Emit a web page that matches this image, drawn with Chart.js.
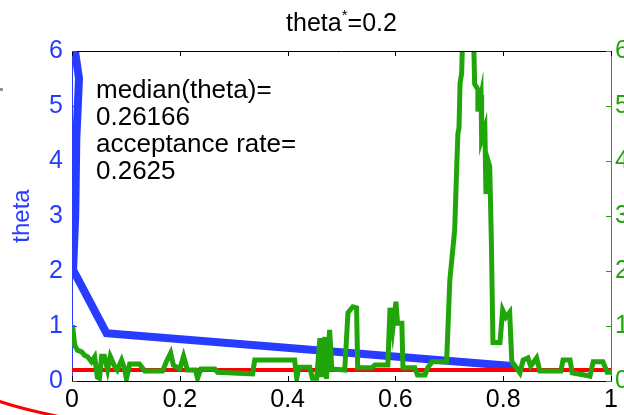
<!DOCTYPE html>
<html>
<head>
<meta charset="utf-8">
<script src="https://cdn.jsdelivr.net/npm/chart.js@4.4.0/dist/chart.umd.min.js"></script>
<style>
  body { margin: 0; background: #fff; }
  #mycanvas { display: block; }
</style>
</head>
<body>
<canvas id="mycanvas" width="624" height="415"></canvas>
<script>
// tick labels
var xTicks = [0, 0.2, 0.4, 0.6, 0.8, 1];
var yTicks = [0, 1, 2, 3, 4, 5, 6];

// blue curve (left axis)
var thetaX = [0.004, 0.013, 0.008, 0.006, 0.002, 0.064, 0.822];
var thetaY = [6.1, 5.5, 4.4, 3.0, 2.02, 0.87, 0.27];

// green trace (right axis)
var traceX = [0.001, 0.005, 0.010, 0.018, 0.023, 0.029, 0.036, 0.042, 0.047, 0.051,
  0.055, 0.060, 0.066, 0.071, 0.079, 0.084, 0.092, 0.097, 0.101, 0.107,
  0.125, 0.135, 0.168, 0.175, 0.183, 0.188, 0.200, 0.207, 0.214, 0.229,
  0.233, 0.239, 0.265, 0.270, 0.289, 0.335, 0.339, 0.413, 0.417, 0.421,
  0.441, 0.446, 0.454, 0.460, 0.463, 0.469, 0.472, 0.478, 0.482, 0.506,
  0.512, 0.521, 0.528, 0.530, 0.556, 0.562, 0.586, 0.590, 0.595, 0.601,
  0.604, 0.612, 0.614, 0.636, 0.641, 0.655, 0.660, 0.668, 0.695, 0.701,
  0.710, 0.714, 0.716, 0.718, 0.720, 0.723, 0.726, 0.735, 0.744, 0.747,
  0.753, 0.753, 0.759, 0.760, 0.766, 0.768, 0.772, 0.775, 0.778, 0.781,
  0.794, 0.799, 0.805, 0.812, 0.816, 0.824, 0.831, 0.837, 0.846, 0.851,
  0.857, 0.862, 0.868, 0.907, 0.911, 0.924, 0.928, 0.961, 0.967, 0.985,
  0.993, 1.0];
var traceY = [1.02, 0.65, 0.56, 0.53, 0.47, 0.44, 0.35, 0.44, 0.07, 0.05,
  0.45, 0.45, 0.20, 0.45, 0.27, 0.20, 0.38, 0.24, 0.04, 0.31,
  0.31, 0.18, 0.18, 0.35, 0.51, 0.29, 0.22, 0.45, 0.20, 0.20,
  0.05, 0.22, 0.22, 0.16, 0.15, 0.13, 0.38, 0.38, 0.05, 0.25,
  0.25, 0.05, 0.05, 0.78, 0.07, 0.80, 0.04, 0.93, 0.22, 0.20,
  1.24, 1.35, 1.33, 0.24, 0.24, 0.29, 0.29, 1.33, 0.93, 1.44,
  1.05, 1.05, 0.24, 0.24, 0.11, 0.11, 0.24, 0.35, 0.35, 1.84,
  2.75, 3.96, 4.50, 4.60, 5.42, 5.60, 6.8, 7.2, 6.8, 5.40,
  5.30, 4.90, 5.20, 4.40, 4.60, 3.40, 4.00, 3.90, 2.56, 0.70,
  0.70, 1.29, 1.16, 1.25, 0.35, 0.25, 0.15, 0.38, 0.42, 0.27,
  0.35, 0.42, 0.18, 0.18, 0.38, 0.38, 0.15, 0.09, 0.35, 0.35,
  0.16, 0.16];

// true value line
var trueTheta = 0.2;
var notes = ['median(theta)=', '0.26166', 'acceptance rate=', '0.2625'];

var BLUE = 'rgb(40,60,255)';
var GREEN = 'rgb(32,165,10)';
var RED = 'rgb(255,0,0)';
var FONT = 'Liberation Sans, Arial, Helvetica, sans-serif';
var FS = 25;

function pts(xs, ys) {
  var out = [];
  for (var i = 0; i < xs.length; i++) out.push({x: xs[i], y: ys[i]});
  return out;
}

var extras = {
  id: 'extras',
  afterDatasetsDraw: function(chart) {
    var ctx = chart.ctx, a = chart.chartArea;
    var sx = chart.scales.x, sy = chart.scales.y;
    ctx.save();
    // top border
    ctx.strokeStyle = '#000';
    ctx.lineWidth = 1;
    ctx.beginPath();
    ctx.moveTo(a.left, a.top + 0.5);
    ctx.lineTo(a.right, a.top + 0.5);
    ctx.stroke();
    // inward x ticks
    xTicks.forEach(function(v) {
      var px = Math.round(sx.getPixelForValue(v)) + 0.5;
      ctx.beginPath();
      ctx.moveTo(px, a.bottom); ctx.lineTo(px, a.bottom - 5);
      ctx.moveTo(px, a.top); ctx.lineTo(px, a.top + 5);
      ctx.stroke();
    });
    // inward y ticks
    yTicks.forEach(function(v) {
      var py = Math.round(sy.getPixelForValue(v)) + 0.5;
      ctx.strokeStyle = BLUE;
      ctx.beginPath(); ctx.moveTo(a.left, py); ctx.lineTo(a.left + 5, py); ctx.stroke();
      ctx.strokeStyle = GREEN;
      ctx.beginPath(); ctx.moveTo(a.right, py); ctx.lineTo(a.right - 5, py); ctx.stroke();
    });
    ctx.restore();
  },
  afterDraw: function(chart) {
    var ctx = chart.ctx, a = chart.chartArea;
    ctx.save();
    ctx.fillStyle = '#000';
    ctx.textBaseline = 'alphabetic';
    // title with superscript
    ctx.font = FS + 'px ' + FONT;
    var w1 = ctx.measureText('theta').width;
    var w3 = ctx.measureText('=0.2').width;
    ctx.font = '15px ' + FONT;
    var w2 = ctx.measureText('*').width;
    var cx = (a.left + a.right) / 2;
    var x0 = cx - (w1 + w2 + w3) / 2;
    ctx.textAlign = 'left';
    ctx.font = FS + 'px ' + FONT;
    ctx.fillText('theta', x0, 31);
    ctx.font = '15px ' + FONT;
    ctx.fillText('*', x0 + w1, 20);
    ctx.font = FS + 'px ' + FONT;
    ctx.fillText('=0.2', x0 + w1 + w2, 31);
    // annotation
    ctx.font = '26px ' + FONT;
    notes.forEach(function(t, i) {
      ctx.fillText(t, 96, 98 + i * 27);
    });
    // stray marks at the left edge
    ctx.strokeStyle = RED;
    ctx.lineWidth = 3;
    ctx.beginPath();
    ctx.moveTo(-2, 401);
    ctx.quadraticCurveTo(25, 410, 66, 418);
    ctx.stroke();
    ctx.fillStyle = 'rgba(120,120,120,0.8)';
    ctx.fillRect(0, 88, 3, 3);
    ctx.restore();
  }
};

var ctx = document.getElementById('mycanvas');

var chart = new Chart(ctx, {
  type: 'scatter',
  data: {
    datasets: [
      {
        label: 'trace',
        data: pts(traceX, traceY),
        yAxisID: 'y2',
        showLine: true,
        borderColor: GREEN,
        borderWidth: 5,
        pointRadius: 0,
        clip: 0,
        order: 0
      },
      {
        label: 'true',
        data: [{x: 0, y: trueTheta}, {x: 1, y: trueTheta}],
        yAxisID: 'y',
        showLine: true,
        borderColor: RED,
        borderWidth: 4,
        pointRadius: 0,
        clip: 0,
        order: 1
      },
      {
        label: 'theta',
        data: pts(thetaX, thetaY),
        yAxisID: 'y',
        showLine: true,
        borderColor: BLUE,
        borderWidth: 8,
        pointRadius: 0,
        clip: 0,
        order: 2
      }
    ]
  },
  options: {
    responsive: false,
    animation: false,
    layout: { padding: { top: 51, left: 0, right: 0, bottom: 0 } },
    plugins: {
      legend: { display: false },
      tooltip: { enabled: false },
      title: { display: false }
    },
    scales: {
      x: {
        type: 'linear',
        min: 0, max: 1,
        position: 'bottom',
        afterBuildTicks: function(s) { s.ticks = xTicks.map(function(v) { return {value: v}; }); },
        afterFit: function(s) { s.height = 34; },
        grid: { display: false, drawTicks: false },
        border: { color: '#000', width: 1 },
        ticks: { color: '#000', padding: 4, maxRotation: 0, autoSkip: false,
                 font: { size: FS, family: FONT },
                 callback: function(v) { return String(v); } }
      },
      y: {
        type: 'linear',
        min: 0, max: 6,
        position: 'left',
        afterBuildTicks: function(s) { s.ticks = yTicks.map(function(v) { return {value: v}; }); },
        afterFit: function(s) { s.width = 72; },
        grid: { display: false, drawTicks: false },
        border: { color: BLUE, width: 1 },
        ticks: { color: BLUE, padding: 9, font: { size: FS, family: FONT } },
        title: { display: true, text: 'theta', color: BLUE, padding: { top: 8, bottom: 0 },
                 font: { size: FS - 1, family: FONT } }
      },
      y2: {
        type: 'linear',
        min: 0, max: 6,
        position: 'right',
        afterBuildTicks: function(s) { s.ticks = yTicks.map(function(v) { return {value: v}; }); },
        afterFit: function(s) { s.width = 13; },
        grid: { display: false, drawTicks: false },
        border: { color: GREEN, width: 1 },
        ticks: { color: GREEN, padding: 4, font: { size: FS, family: FONT } }
      }
    }
  },
  plugins: [extras]
});
</script>
</body>
</html>
